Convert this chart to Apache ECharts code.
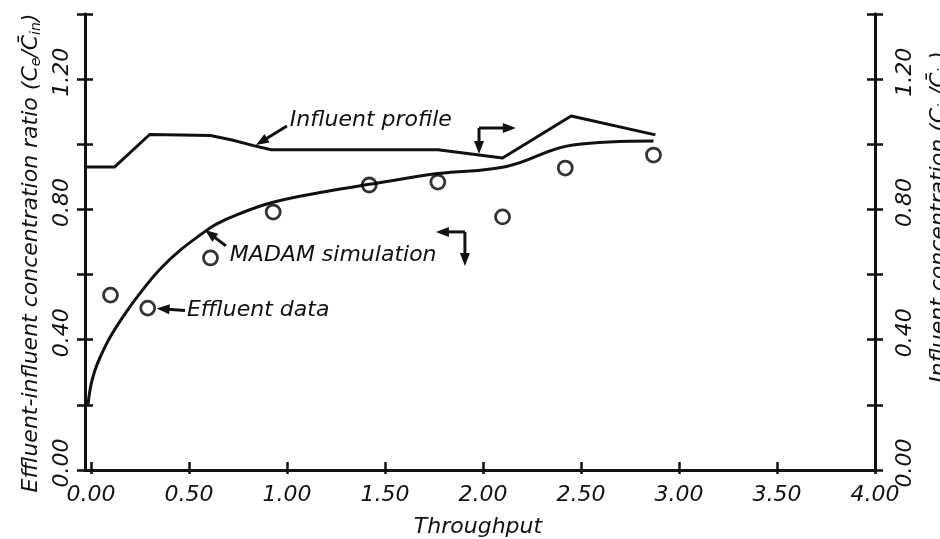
<!DOCTYPE html>
<html><head><meta charset="utf-8">
<script src="https://cdn.jsdelivr.net/npm/echarts@6/dist/echarts.min.js"></script>
<style>html,body{margin:0;padding:0;background:#fff}#c{width:940px;height:539px}</style>
</head><body><div id="c"></div>
<script>
// ---- data ----
const xTickValues = [0, 0.5, 1, 1.5, 2, 2.5, 3, 3.5, 4];
const yLabelValues = [0, 0.4, 0.8, 1.2];

const influentX = [-0.03, 0.12, 0.30, 0.61, 0.72, 0.83, 0.92, 1.77, 2.10, 2.45, 2.88];
const influentY = [0.930, 0.930, 1.030, 1.027, 1.013, 0.996, 0.983, 0.983, 0.958, 1.087, 1.029];

const madamX = [-0.015, 0.00, 0.02, 0.05, 0.10, 0.18, 0.26, 0.35, 0.45, 0.57, 0.64, 0.75, 0.93, 1.20, 1.42, 1.77, 2.12, 2.46, 2.87];
const madamY = [0.200, 0.260, 0.305, 0.350, 0.410, 0.485, 0.550, 0.615, 0.672, 0.727, 0.755, 0.785, 0.822, 0.855, 0.877, 0.910, 0.932, 0.998, 1.010];

const effluentX = [0.10, 0.29, 0.61, 0.93, 1.42, 1.77, 2.10, 2.42, 2.87];
const effluentY = [0.537, 0.497, 0.651, 0.792, 0.875, 0.884, 0.777, 0.927, 0.967];

// annotation anchors in data units
const annInfluentText = [1.015, 1.075];
const annInfluentArrow = [[1.00, 1.056], [0.842, 0.998]];
const annRightElbow = {corner: [1.98, 1.050], down: [1.98, 0.970], side: [2.168, 1.050]};
const annMadamText = [0.709, 0.660];
const annMadamArrow = [[0.689, 0.688], [0.582, 0.737]];
const annLeftElbow = {corner: [1.908, 0.731], down: [1.908, 0.626], side: [1.760, 0.731]};
const annEffluentText = [0.49, 0.491];
const annEffluentArrow = [[0.48, 0.490], [0.335, 0.496]];

// ---- chart ----
const FONT = '"DejaVu Sans", sans-serif';
const INK = '#111';
const lbl = {fontFamily: FONT, fontStyle: 'italic', fontSize: 22, color: INK};
const chart = echarts.init(document.getElementById('c'), null, {renderer: 'canvas'});

function yAx(pos, inside, showLabel, margin) {
  return {
    type: 'value', position: pos, min: 0, max: 1.4, interval: 0.2,
    axisLine: {show: true, onZero: false, lineStyle: {color: INK, width: 3}},
    axisTick: {show: true, inside: inside, length: 8, lineStyle: {color: INK, width: 2.5}},
    splitLine: {show: false},
    axisLabel: Object.assign({show: showLabel, customValues: yLabelValues, rotate: 90, margin: margin,
      formatter: v => v.toFixed(2), padding: [0, 0, 0, 14]}, lbl)
  };
}
function xAx(inside, len, showLabel) {
  return {
    type: 'value', position: 'bottom', min: -0.03, max: 4.0,
    axisLine: {show: true, onZero: false, lineStyle: {color: INK, width: 3}},
    axisTick: {show: true, inside: inside, length: len, customValues: xTickValues, lineStyle: {color: INK, width: 2.5}},
    splitLine: {show: false},
    axisLabel: Object.assign({show: showLabel, customValues: xTickValues, margin: 14,
      formatter: v => v.toFixed(2)}, lbl)
  };
}
const zip = (a, b) => a.map((x, i) => [x, b[i]]);

chart.setOption({
  animation: false,
  backgroundColor: '#fff',
  grid: {left: 85, right: 65, top: 14, bottom: 69, containLabel: false},
  xAxis: [xAx(false, 4, true), xAx(true, 8, false)],
  yAxis: [yAx('left', false, true, 12), yAx('left', true, false, 12),
          yAx('right', false, true, 19), yAx('right', true, false, 19)],
  series: [
    {type: 'line', name: 'Influent profile', xAxisIndex: 0, yAxisIndex: 2, data: zip(influentX, influentY),
      showSymbol: false, smooth: false, lineStyle: {color: INK, width: 3}, z: 3},
    {type: 'line', name: 'MADAM simulation', xAxisIndex: 0, yAxisIndex: 0, data: zip(madamX, madamY),
      showSymbol: false, smooth: 0.4, lineStyle: {color: INK, width: 3}, z: 3},
    {type: 'scatter', name: 'Effluent data', xAxisIndex: 0, yAxisIndex: 0, data: zip(effluentX, effluentY),
      symbol: 'circle', symbolSize: 14,
      itemStyle: {color: 'rgba(0,0,0,0)', borderColor: '#000', borderWidth: 2.8}, z: 4}
  ]
});

const P = d => chart.convertToPixel({xAxisIndex: 0, yAxisIndex: 0}, d);
function arrow(tail, tip, headLen, headW) {
  headLen = headLen || 13; headW = headW || 10;
  const t = P(tail), h = P(tip);
  const dx = h[0] - t[0], dy = h[1] - t[1], L = Math.hypot(dx, dy);
  const ux = dx / L, uy = dy / L, px = -uy, py = ux;
  const b = [h[0] - ux * headLen, h[1] - uy * headLen];
  return [
    {type: 'line', shape: {x1: t[0], y1: t[1], x2: b[0] + ux * 2, y2: b[1] + uy * 2}, style: {stroke: INK, lineWidth: 3}},
    {type: 'polygon', shape: {points: [h, [b[0] + px * headW / 2, b[1] + py * headW / 2], [b[0] - px * headW / 2, b[1] - py * headW / 2]]}, style: {fill: INK}}
  ];
}
function txt(pos, text) {
  const p = P(pos);
  return {type: 'text', x: p[0], y: p[1], style: {text: text, align: 'left', verticalAlign: 'middle',
    font: 'italic 22px ' + FONT, fill: INK}};
}
const rich = {sub: {fontFamily: FONT, fontStyle: 'italic', fontSize: 14, fill: INK, verticalAlign: 'bottom', padding: [10, 0, 0, 0]}};
const g = [];
g.push(txt(annInfluentText, 'Influent profile'));
g.push(...arrow(annInfluentArrow[0], annInfluentArrow[1]));
g.push(...arrow(annRightElbow.corner, annRightElbow.down));
g.push(...arrow(annRightElbow.corner, annRightElbow.side));
g.push(txt(annMadamText, 'MADAM simulation'));
g.push(...arrow(annMadamArrow[0], annMadamArrow[1]));
g.push(...arrow(annLeftElbow.corner, annLeftElbow.down));
g.push(...arrow(annLeftElbow.corner, annLeftElbow.side));
g.push(txt(annEffluentText, 'Effluent data'));
g.push(...arrow(annEffluentArrow[0], annEffluentArrow[1]));
// axis titles
g.push({type: 'text', x: 478, y: 527, style: {text: 'Throughput', align: 'center', verticalAlign: 'middle', font: 'italic 22px ' + FONT, fill: INK}});
g.push({type: 'text', x: 31, y: 253, rotation: Math.PI / 2, style: {text: 'Effluent-influent concentration ratio (C{sub|e}/C\u0304{sub|in})', align: 'center', verticalAlign: 'middle', fontFamily: FONT, fontStyle: 'italic', fontSize: 22, fill: INK, rich: rich}});
g.push({type: 'text', x: 939, y: 217, rotation: Math.PI / 2, style: {text: 'Influent concentration (C{sub|in}/C\u0304{sub|in})', align: 'center', verticalAlign: 'middle', fontFamily: FONT, fontStyle: 'italic', fontSize: 22, fill: INK, rich: rich}});
chart.setOption({graphic: {elements: g}});
</script>
</body></html>
